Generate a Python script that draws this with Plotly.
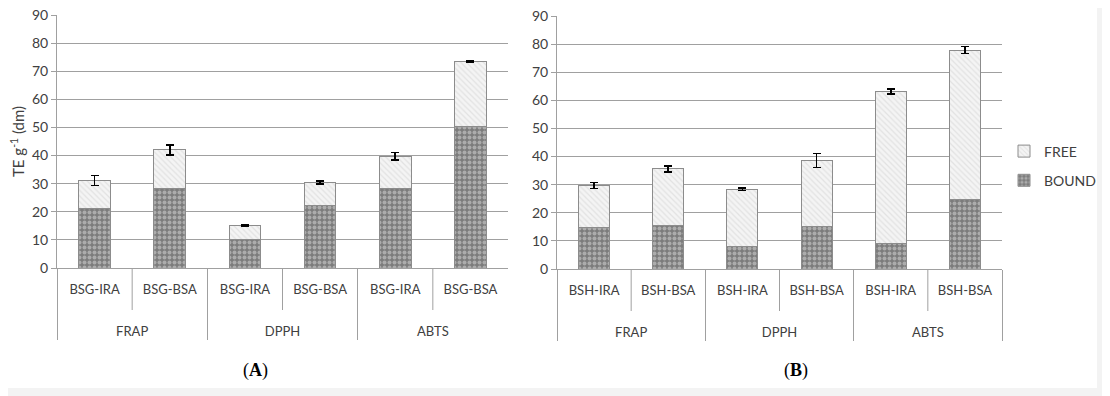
import plotly.graph_objects as go

assays = ["FRAP", "FRAP", "DPPH", "DPPH", "ABTS", "ABTS"]
samples_a = ["BSG-IRA", "BSG-BSA"] * 3
samples_b = ["BSH-IRA", "BSH-BSA"] * 3

bound_a = [21.3, 28.4, 10.3, 22.1, 28.3, 50.2]
free_a = [9.8, 13.6, 4.8, 8.3, 11.5, 23.2]
err_a = [1.8, 1.8, 0.2, 0.6, 1.3, 0.3]

bound_b = [14.9, 15.6, 8.0, 15.1, 9.1, 24.6]
free_b = [14.8, 20.0, 20.4, 23.5, 54.0, 53.3]
err_b = [1.1, 1.1, 0.5, 2.5, 0.9, 1.3]

y_ticks = [0, 10, 20, 30, 40, 50, 60, 70, 80, 90]

GRID = "#a0a0a0"
TXT = "#404040"
FONT = "Lato"

# the page body has an 8px margin, so the figure is drawn 8px in from the window edge
OFF = 8
W, H = 1110 - OFF, 396 - OFF


def px(x):
    return (x - OFF) / W


def py(y):
    return 1 - (y - OFF) / H


bound_marker = dict(color="#808080", line=dict(color="#8c8c8c", width=1),
                    pattern=dict(shape=".", fgcolor="#dcdcdc", bgcolor="#7c7c7c",
                                 size=5, solidity=0.5))
free_marker = dict(color="#f2f2f2", line=dict(color="#8c8c8c", width=1),
                   pattern=dict(shape="\\", fgcolor="#cfcfcf", bgcolor="#f4f4f4",
                                size=4, solidity=0.3))


def inner_label(s):
    # blank lines leave room between the sample row and the assay row
    return s + "<br> <br> "


fig = go.Figure()
for i, (samples, bound, free, err) in enumerate(
        [(samples_a, bound_a, free_a, err_a), (samples_b, bound_b, free_b, err_b)]):
    xa = "x" if i == 0 else "x2"
    ya = "y" if i == 0 else "y2"
    xs = [assays, [inner_label(s) for s in samples]]
    fig.add_trace(go.Bar(x=xs, y=bound, name="BOUND", marker=bound_marker,
                         xaxis=xa, yaxis=ya, width=0.42, showlegend=(i == 1),
                         legendgroup="bound", legendrank=2))
    fig.add_trace(go.Bar(x=xs, y=free, name="FREE", marker=free_marker,
                         xaxis=xa, yaxis=ya, width=0.42, showlegend=(i == 1),
                         legendgroup="free", legendrank=1,
                         error_y=dict(type="data", array=err, visible=True,
                                      color="#000000", thickness=1.6, width=4)))

xaxis_common = dict(type="multicategory", showgrid=False, showline=True, linecolor=GRID,
                    linewidth=1, ticks="", ticklabelstandoff=9,
                    showdividers=True, dividercolor=GRID, dividerwidth=1, automargin=False,
                    tickfont=dict(family=FONT, size=13, color=TXT), fixedrange=True)
yaxis_common = dict(range=[0, 90], tickvals=y_ticks, showgrid=True, gridcolor=GRID,
                    gridwidth=1, showline=True, linecolor=GRID, linewidth=1,
                    ticks="outside", ticklen=5, tickcolor=GRID, zeroline=False,
                    automargin=False, ticklabeloverflow="allow",
                    tickfont=dict(family=FONT, size=14, color=TXT), fixedrange=True)

fig.update_layout(
    width=W, height=H, barmode="stack",
    margin=dict(l=0, r=0, t=0, b=0),
    paper_bgcolor="white", plot_bgcolor="white",
    xaxis=dict(domain=[px(57), px(508)], anchor="y", **xaxis_common),
    xaxis2=dict(domain=[px(557), px(1002)], anchor="y2", **xaxis_common),
    yaxis=dict(domain=[py(268), py(15)], anchor="x",
               title=dict(text="TE g<sup>-1</sup> (dm)", standoff=8,
                          font=dict(family=FONT, size=15, color=TXT)),
               **yaxis_common),
    yaxis2=dict(domain=[py(269), py(16)], anchor="x2", **yaxis_common),
    legend=dict(x=px(1004), y=py(166), xanchor="left", yanchor="middle",
                traceorder="grouped", tracegroupgap=8, itemwidth=30,
                font=dict(family=FONT, size=14, color=TXT), bgcolor="rgba(0,0,0,0)"),
    showlegend=True,
    shapes=[
        dict(type="rect", xref="paper", yref="paper", x0=px(1097), x1=1, y0=0, y1=1,
             fillcolor="#f3f3f3", line=dict(width=0), layer="below"),
        dict(type="rect", xref="paper", yref="paper", x0=0, x1=1, y0=0, y1=py(388),
             fillcolor="#f3f3f3", line=dict(width=0), layer="below"),
    ],
    annotations=[
        dict(text="(<b>A</b>)", x=px(241), y=py(370), xref="paper", yref="paper",
             yanchor="middle", showarrow=False,
             font=dict(family="Liberation Serif", size=18, color="#000000")),
        dict(text="(<b>B</b>)", x=px(810), y=py(370), xref="paper", yref="paper",
             yanchor="middle", showarrow=False,
             font=dict(family="Liberation Serif", size=18, color="#000000")),
    ],
)

# inner dividers between the two samples within each assay group (axis decoration)
for xr in ["x domain", "x2 domain"]:
    yr = "y domain" if xr == "x domain" else "y2 domain"
    for k in [1, 3, 5]:
        fig.add_shape(type="line", xref=xr, yref=yr, x0=k / 6, x1=k / 6, y0=0, y1=-42 / 253,
                      line=dict(color=GRID, width=1))

fig.write_html("out.html")
